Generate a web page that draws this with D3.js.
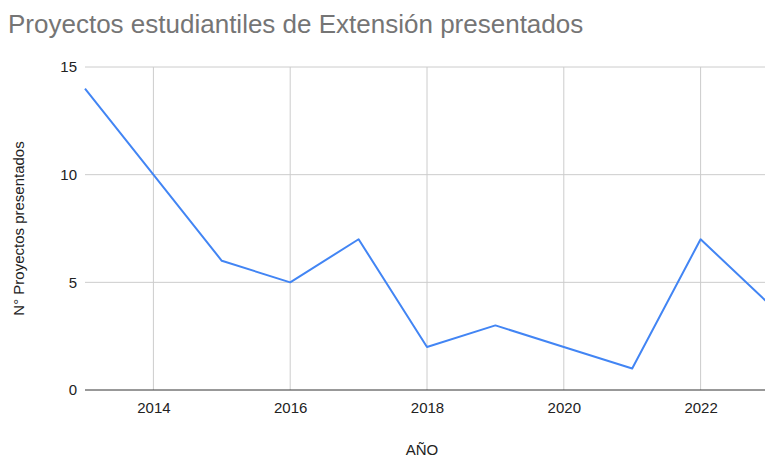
<!DOCTYPE html>
<html>
<head>
<meta charset="utf-8">
<script src="https://cdn.jsdelivr.net/npm/d3@7"></script>
<style>
  body { margin: 0; background: #fff; }
  svg { display: block; font-family: 'Liberation Sans', Arial, sans-serif; }
</style>
</head>
<body>
<div id="chart"></div>
<script>
const years = [2013, 2014, 2015, 2016, 2017, 2018, 2019, 2020, 2021, 2022, 2023]
const projects = [14, 10, 6, 5, 7, 2, 3, 2, 1, 7, 4]
const xTicks = [2014, 2016, 2018, 2020, 2022]
const yTicks = [0, 5, 10, 15]

const width = 765
const height = 457
const margin = { top: 67, bottom: 67, left: 85, right: -4 }
const lineColor = '#4285f4'

const svg = d3.select('#chart')
  .append('svg')
  .attr('width', width)
  .attr('height', height)

const x = d3.scaleLinear()
  .domain([2013, 2023])
  .range([margin.left, width - margin.right])

const y = d3.scaleLinear()
  .domain([0, 15])
  .range([height - margin.bottom, margin.top])

// Rejilla
svg.append('g')
  .selectAll('line')
  .data(yTicks.filter(d => d > 0))
  .join('line')
  .attr('x1', margin.left)
  .attr('x2', width)
  .attr('y1', d => y(d))
  .attr('y2', d => y(d))
  .attr('stroke', '#cccccc')
  .attr('stroke-width', 1)

svg.append('g')
  .selectAll('line')
  .data(xTicks)
  .join('line')
  .attr('x1', d => x(d))
  .attr('x2', d => x(d))
  .attr('y1', y(15))
  .attr('y2', y(0))
  .attr('stroke', '#cccccc')
  .attr('stroke-width', 1)

// Eje x
const xAxis = (g) => {
  g.attr('transform', `translate(0,${y(0)})`)
    .call(d3.axisBottom(x).tickValues(xTicks).tickFormat(d3.format('d')).tickSize(0).tickPadding(12))
    .call(g => g.select('.domain').remove())
    .attr('font-size', '15px')
    .attr('font-family', null)
    .selectAll('text').attr('fill', '#222')
}

// Eje y
const yAxis = (g) => {
  g.attr('transform', `translate(${margin.left}, 0)`)
    .call(d3.axisLeft(y).tickValues(yTicks).tickSize(0).tickPadding(8))
    .call(g => g.select('.domain').remove())
    .attr('font-size', '15px')
    .attr('font-family', null)
    .selectAll('text').attr('fill', '#222')
}

svg.append('g').call(xAxis)
svg.append('g').call(yAxis)

// Línea base
svg.append('line')
  .attr('x1', margin.left)
  .attr('x2', width)
  .attr('y1', y(0))
  .attr('y2', y(0))
  .attr('stroke', '#333333')
  .attr('stroke-width', 1)

// Serie
const line = d3.line()
  .x((d, i) => x(years[i]))
  .y(d => y(d))

svg.append('path')
  .datum(projects)
  .attr('fill', 'none')
  .attr('stroke', lineColor)
  .attr('stroke-width', 2)
  .attr('stroke-linejoin', 'round')
  .attr('d', line)

// Títulos
svg.append('text')
  .attr('x', 8)
  .attr('y', 33)
  .attr('font-size', '26px')
  .attr('fill', '#757575')
  .text('Proyectos estudiantiles de Extensión presentados')

svg.append('text')
  .attr('text-anchor', 'middle')
  .attr('transform', `translate(24, ${(y(0) + y(15)) / 2}) rotate(-90)`)
  .attr('font-size', '15px')
  .attr('fill', '#222')
  .text('N° Proyectos presentados')

svg.append('text')
  .attr('text-anchor', 'middle')
  .attr('x', 422)
  .attr('y', 455)
  .attr('font-size', '15px')
  .attr('fill', '#222')
  .text('AÑO')
</script>
</body>
</html>
